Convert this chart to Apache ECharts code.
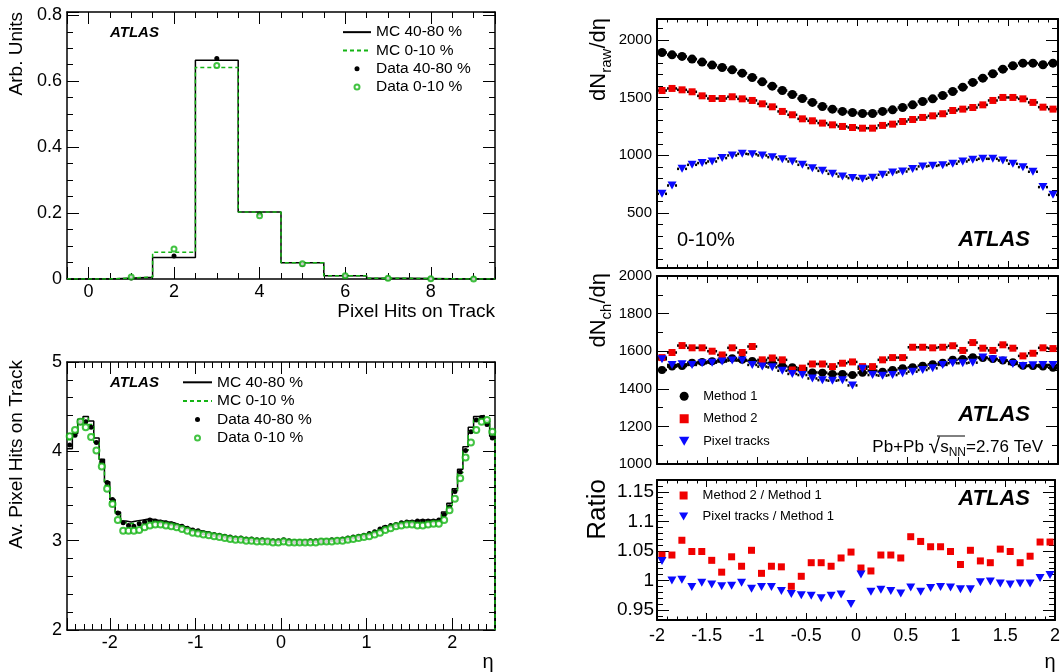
<!DOCTYPE html>
<html>
<head>
<meta charset="utf-8">
<script src="https://cdn.jsdelivr.net/npm/echarts@6/dist/echarts.min.js"></script>
<style>
html, body { margin: 0; padding: 0; background: #fff; }
#chart { width: 1063px; height: 672px; }
</style>
</head>
<body>
<div id="chart"></div>
<script>
// --- pixel hits per track (bins centred on integers) ---
var hitBins = [0, 1, 2, 3, 4, 5, 6, 7, 8, 9]
var mcPeriph = [0, 0.005, 0.065, 0.664, 0.203, 0.049, 0.010, 0.002, 0.0005, 0]
var mcCentral = [0, 0.006, 0.081, 0.642, 0.203, 0.049, 0.010, 0.002, 0.0005, 0]
var dataPeriph = [null, 0.003, 0.070, 0.669, 0.197, 0.045, 0.009, 0.002, 0.001, 0.001]
var dataCentral = [null, 0.006, 0.091, 0.648, 0.192, 0.046, 0.010, 0.002, 0.001, 0]

// --- average pixel hits vs eta (80 bins in -2.5..2.5) ---
var etaLo = -2.5
var etaStep = 0.0625
var avMcPeriph = [
  4.03, 4.20, 4.36, 4.39, 4.34, 4.15, 3.91, 3.66, 3.46, 3.32,
  3.22, 3.21, 3.22, 3.23, 3.24, 3.24, 3.23, 3.22, 3.21, 3.20,
  3.18, 3.16, 3.14, 3.12, 3.11, 3.10, 3.08, 3.07, 3.06, 3.05,
  3.04, 3.03, 3.03, 3.02, 3.02, 3.01, 3.01, 3.00, 3.00, 3.00,
  3.00, 3.00, 3.00, 3.00, 3.00, 3.00, 3.00, 3.01, 3.01, 3.01,
  3.02, 3.03, 3.03, 3.04, 3.06, 3.07, 3.09, 3.11, 3.13, 3.16,
  3.18, 3.19, 3.21, 3.22, 3.22, 3.23, 3.23, 3.23, 3.23, 3.25,
  3.32, 3.42, 3.58, 3.80, 4.05, 4.27, 4.39, 4.40, 4.34, 4.17
]
var avMcCentral = [
  4.13, 4.22, 4.34, 4.37, 4.30, 4.10, 3.87, 3.62, 3.43, 3.29,
  3.20, 3.19, 3.20, 3.21, 3.22, 3.22, 3.21, 3.20, 3.19, 3.18,
  3.16, 3.14, 3.12, 3.10, 3.09, 3.08, 3.07, 3.06, 3.05, 3.04,
  3.03, 3.02, 3.02, 3.01, 3.01, 3.00, 3.00, 2.99, 2.99, 2.99,
  2.99, 2.99, 2.99, 2.99, 2.99, 2.99, 2.99, 3.00, 3.00, 3.00,
  3.01, 3.01, 3.02, 3.03, 3.04, 3.05, 3.07, 3.09, 3.11, 3.14,
  3.16, 3.17, 3.19, 3.20, 3.21, 3.21, 3.21, 3.21, 3.21, 3.23,
  3.29, 3.39, 3.55, 3.76, 4.01, 4.22, 4.35, 4.38, 4.33, 4.20
]
var avDataPeriph = [
  4.07, 4.18, 4.32, 4.33, 4.27, 4.10, 3.89, 3.65, 3.46, 3.31,
  3.20, 3.17, 3.16, 3.19, 3.21, 3.23, 3.22, 3.21, 3.20, 3.19,
  3.17, 3.16, 3.14, 3.12, 3.11, 3.09, 3.08, 3.07, 3.06, 3.05,
  3.04, 3.03, 3.03, 3.02, 3.02, 3.01, 3.01, 3.00, 3.00, 3.00,
  3.01, 3.00, 2.99, 2.99, 2.99, 3.00, 3.00, 3.00, 3.00, 3.01,
  3.01, 3.02, 3.03, 3.04, 3.05, 3.06, 3.08, 3.10, 3.13, 3.15,
  3.17, 3.18, 3.20, 3.21, 3.21, 3.22, 3.22, 3.22, 3.22, 3.23,
  3.29, 3.38, 3.55, 3.77, 4.01, 4.22, 4.35, 4.38, 4.30, 4.15
]
var avDataCentral = [
  4.17, 4.24, 4.33, 4.27, 4.16, 4.01, 3.83, 3.58, 3.41, 3.23,
  3.11, 3.11, 3.11, 3.12, 3.15, 3.17, 3.18, 3.18, 3.17, 3.16,
  3.15, 3.13, 3.11, 3.09, 3.08, 3.07, 3.06, 3.05, 3.04, 3.03,
  3.02, 3.01, 3.01, 3.00, 3.00, 2.99, 2.99, 2.99, 2.98, 2.98,
  2.99, 2.98, 2.98, 2.98, 2.98, 2.98, 2.98, 2.99, 2.99, 2.99,
  3.00, 3.00, 3.01, 3.02, 3.03, 3.04, 3.05, 3.07, 3.09, 3.12,
  3.14, 3.16, 3.17, 3.18, 3.18, 3.17, 3.17, 3.18, 3.19, 3.19,
  3.23, 3.34, 3.47, 3.70, 3.93, 4.10, 4.24, 4.33, 4.35, 4.22
]

// --- dN/deta, 0-10% (40 points in -2..2) ---
var etaPts = [
  -1.95, -1.85, -1.75, -1.65, -1.55, -1.45, -1.35, -1.25, -1.15, -1.05,
  -0.95, -0.85, -0.75, -0.65, -0.55, -0.45, -0.35, -0.25, -0.15, -0.05,
  0.05, 0.15, 0.25, 0.35, 0.45, 0.55, 0.65, 0.75, 0.85, 0.95,
  1.05, 1.15, 1.25, 1.35, 1.45, 1.55, 1.65, 1.75, 1.85, 1.95
]
var rawM1 = [1890, 1870, 1856, 1833, 1807, 1781, 1760, 1740, 1711, 1674, 1636, 1599, 1561, 1527, 1492, 1458, 1423, 1400, 1380, 1371,
  1362, 1362, 1380, 1394, 1414, 1437, 1466, 1489, 1518, 1553, 1590, 1631, 1668, 1706, 1746, 1775, 1798, 1798, 1784, 1798]
var rawM2 = [1561, 1579, 1567, 1550, 1515, 1492, 1492, 1507, 1489, 1475, 1446, 1420, 1380, 1351, 1316, 1299, 1279, 1264, 1250, 1241,
  1235, 1235, 1259, 1270, 1293, 1310, 1328, 1342, 1360, 1388, 1400, 1414, 1437, 1475, 1501, 1501, 1489, 1458, 1417, 1400]
var rawPix = [667, 739, 883, 918, 933, 947, 976, 999, 1013, 1010, 999, 984, 967, 947, 918, 889, 866, 840, 817, 803,
  797, 806, 832, 852, 860, 881, 904, 909, 915, 927, 947, 961, 970, 970, 956, 927, 898, 858, 725, 658]
var chM1 = [1500, 1518, 1521, 1539, 1543, 1546, 1554, 1562, 1554, 1548, 1539, 1536, 1521, 1514, 1500, 1487, 1486, 1479, 1479, 1473,
  1486, 1496, 1491, 1500, 1509, 1514, 1523, 1530, 1539, 1554, 1559, 1568, 1564, 1559, 1550, 1541, 1523, 1521, 1518, 1512]
var chM2 = [1566, 1593, 1630, 1618, 1618, 1600, 1580, 1618, 1593, 1625, 1554, 1564, 1554, 1500, 1510, 1532, 1532, 1518, 1536, 1543,
  1518, 1518, 1554, 1566, 1566, 1621, 1621, 1618, 1621, 1629, 1604, 1646, 1616, 1604, 1634, 1616, 1575, 1589, 1618, 1614]
var chPix = [1557, 1527, 1530, 1527, 1536, 1539, 1545, 1550, 1550, 1527, 1518, 1514, 1496, 1479, 1473, 1455, 1446, 1443, 1446, 1418,
  1507, 1473, 1470, 1473, 1482, 1491, 1500, 1509, 1527, 1536, 1536, 1539, 1566, 1557, 1550, 1532, 1521, 1525, 1527, 1527]
var ratioM2 = [1.043, 1.043, 1.068, 1.049, 1.049, 1.034, 1.014, 1.040, 1.024, 1.051, 1.012, 1.024, 1.023, 0.990, 1.007, 1.030, 1.030, 1.024, 1.038, 1.048,
  1.021, 1.016, 1.043, 1.043, 1.038, 1.074, 1.066, 1.057, 1.057, 1.049, 1.027, 1.051, 1.033, 1.030, 1.053, 1.049, 1.030, 1.041, 1.065, 1.065]
var ratioPix = [1.033, 1.000, 1.001, 0.989, 0.996, 0.993, 0.990, 0.991, 0.996, 0.986, 0.989, 0.989, 0.982, 0.977, 0.975, 0.974, 0.970, 0.974, 0.976, 0.960,
  1.010, 0.981, 0.984, 0.982, 0.978, 0.988, 0.981, 0.987, 0.989, 0.988, 0.985, 0.985, 0.997, 0.998, 0.995, 0.993, 0.995, 0.995, 1.004, 1.009]

var ink = '#000'
var green = '#14b414'
var red = '#f00000'
var blue = '#0a0aff'
var font = 'Liberation Sans, Arial, sans-serif'
var triDown = 'path://M0,0L10,0L5,8.7Z'
var square = 'path://M0,0L10,0L10,10L0,10Z'

// 直方图的台阶折线
function steps (lo, width, vals) {
  var pts = []
  vals.forEach(function (v, i) {
    pts.push([lo + i * width, v], [lo + (i + 1) * width, v])
  })
  return pts
}
function pairs (xs, ys) {
  return ys.map(function (v, i) { return [xs[i], v] })
}
var etaCenters = avMcPeriph.map(function (v, i) { return etaLo + (i + 0.5) * etaStep })

// 坐标轴 (ROOT 风格: 四边框, 刻度朝内)
function axis (gi, pos, min, max, o, labels) {
  var ax = {
    type: 'value',
    gridIndex: gi,
    position: pos,
    min: min,
    max: max,
    splitNumber: o.split,
    axisLine: { show: true, onZero: false, lineStyle: { color: ink, width: o.lw } },
    axisTick: { show: true, inside: true, length: o.tick, lineStyle: { color: ink, width: 1 } },
    minorTick: { show: true, splitNumber: o.minor, length: o.tick / 2, lineStyle: { color: ink, width: 1 } },
    splitLine: { show: false },
    axisLabel: {
      show: labels,
      color: ink,
      fontFamily: font,
      fontSize: o.fs,
      margin: o.margin,
      showMinLabel: o.showMin,
      showMaxLabel: o.showMax,
      formatter: function (v) { return String(+(+v).toFixed(3)) } // 不要千位分隔符
    }
  }
  if (o.interval) ax.interval = o.interval
  return ax
}

var lx0 = { split: 5, minor: 4, tick: 12, lw: 1.5, fs: 18, margin: 4, showMin: false, showMax: false }
var ly0 = { split: 4, minor: 4, tick: 12, lw: 1.5, fs: 18, margin: 5, showMin: true, showMax: false }
var lx1 = { split: 5, minor: 10, tick: 12, lw: 1.5, fs: 18, margin: 4, showMin: false, showMax: false }
var ly1 = { split: 3, minor: 5, tick: 12, lw: 1.5, fs: 18, margin: 5, showMin: true, showMax: true }
var rx = { interval: 0.5, minor: 5, tick: 7, lw: 2, fs: 18, margin: 7, showMin: true, showMax: true }
var rawY = { split: 4, minor: 5, tick: 12, lw: 2, fs: 15, margin: 5, showMin: false, showMax: false }
var chY = { interval: 200, minor: 2, tick: 12, lw: 2, fs: 15, margin: 5, showMin: true, showMax: true }
var ratY = { split: 5, minor: 5, tick: 12, lw: 2, fs: 19, margin: 3, showMin: false, showMax: false }

function scatter (name, gi, pts, symbol, size, color, hollow) {
  return {
    name: name,
    type: 'scatter',
    xAxisIndex: 2 * gi,
    yAxisIndex: 2 * gi,
    data: pts,
    symbol: symbol,
    symbolSize: size,
    itemStyle: hollow ? { color: color, borderColor: color, borderWidth: 1 } : { color: color, opacity: 1 },
    z: 3
  }
}
function stepLine (name, gi, pts, color, type) {
  return {
    name: name,
    type: 'line',
    xAxisIndex: 2 * gi,
    yAxisIndex: 2 * gi,
    data: pts,
    symbol: 'none',
    lineStyle: { color: color, width: 1.5, type: type },
    itemStyle: { color: color },
    z: 2
  }
}
// 数据点的黑色虚线横条 (bin 宽度)
function dotBars (gi, xs, ys) {
  return {
    type: 'custom',
    xAxisIndex: 2 * gi,
    yAxisIndex: 2 * gi,
    silent: true,
    data: pairs(xs, ys),
    z: 1,
    renderItem: function (params, api) {
      var a = api.coord([api.value(0) - 0.05, api.value(1)])
      var b = api.coord([api.value(0) + 0.05, api.value(1)])
      return {
        type: 'line',
        shape: { x1: a[0], y1: a[1], x2: b[0], y2: b[1] },
        style: { stroke: ink, lineWidth: 2.5, lineDash: [2, 2] }
      }
    }
  }
}

var histPeriph = steps(-0.5, 1, mcPeriph)
var histCentral = steps(-0.5, 1, mcCentral)
var avHistPeriph = steps(etaLo, etaStep, avMcPeriph).concat([[2.5, 2]])
var avHistCentral = steps(etaLo, etaStep, avMcCentral).concat([[2.5, 2]])

function txt (s, x, y, st, extra) {
  var el = { type: 'text', x: x, y: y, z: 100, silent: true,
    style: Object.assign({ text: s, fill: ink, fontFamily: font }, st) }
  return Object.assign(el, extra || {})
}
var atlasS = { fontSize: 15, fontWeight: 'bold', fontStyle: 'italic', verticalAlign: 'middle' }
var atlasL = { fontSize: 22, fontWeight: 'bold', fontStyle: 'italic', verticalAlign: 'middle', align: 'right' }
var rot = { rotation: Math.PI / 2 }
var subRich = {
  m: { fontSize: 22, lineHeight: 30, fontFamily: font, fill: ink },
  s: { fontSize: 15, lineHeight: 15, verticalAlign: 'bottom', fontFamily: font, fill: ink }
}

var legendText = function (fs, lh) {
  return { fontSize: fs, lineHeight: lh, color: ink, fontFamily: font }
}

var option = {
  animation: false,
  backgroundColor: '#fff',
  grid: [
    { left: 67, top: 12, width: 428, height: 267 },
    { left: 67, top: 362, width: 428, height: 268 },
    { left: 657, top: 19, width: 401, height: 249 },
    { left: 657, top: 276, width: 401, height: 188 },
    { left: 657, top: 480, width: 401, height: 140 }
  ],
  xAxis: [
    axis(0, 'bottom', -0.5, 9.5, lx0, true), axis(0, 'top', -0.5, 9.5, lx0, false),
    axis(1, 'bottom', -2.5, 2.5, lx1, true), axis(1, 'top', -2.5, 2.5, lx1, false),
    axis(2, 'bottom', -2, 2, rx, false), axis(2, 'top', -2, 2, rx, false),
    axis(3, 'bottom', -2, 2, rx, false), axis(3, 'top', -2, 2, rx, false),
    axis(4, 'bottom', -2, 2, rx, true), axis(4, 'top', -2, 2, rx, false)
  ],
  yAxis: [
    axis(0, 'left', 0, 0.81, ly0, true), axis(0, 'right', 0, 0.81, ly0, false),
    axis(1, 'left', 2, 5, ly1, true), axis(1, 'right', 2, 5, ly1, false),
    axis(2, 'left', 25, 2180, rawY, true), axis(2, 'right', 25, 2180, rawY, false),
    axis(3, 'left', 1000, 2000, chY, true), axis(3, 'right', 1000, 2000, chY, false),
    axis(4, 'left', 0.933, 1.17, ratY, true), axis(4, 'right', 0.933, 1.17, ratY, false)
  ],
  legend: [
    {
      left: 342, top: 23, orient: 'vertical', padding: 0, itemGap: 0, itemWidth: 28, itemHeight: 5,
      selectedMode: false, textStyle: legendText(15.5, 18.3),
      data: [
        { name: 'MC 40-80 %', itemStyle: { opacity: 0 } },
        { name: 'MC 0-10 %', itemStyle: { opacity: 0 } },
        'Data 40-80 %', 'Data 0-10 %'
      ]
    },
    {
      left: 182, top: 373, orient: 'vertical', padding: 0, itemGap: 0, itemWidth: 29, itemHeight: 5,
      selectedMode: false, textStyle: legendText(15.5, 18.6),
      data: [
        { name: 'MC 40-80 %', itemStyle: { opacity: 0 } },
        { name: 'MC 0-10 %', itemStyle: { opacity: 0 } },
        'Data 40-80 %', 'Data 0-10 %'
      ]
    },
    {
      left: 679, top: 385, orient: 'vertical', padding: 0, itemGap: 0, itemWidth: 28, itemHeight: 9,
      selectedMode: false, textStyle: legendText(13, 22.5),
      data: ['Method 1', 'Method 2', 'Pixel tracks']
    },
    {
      left: 679, top: 485, orient: 'vertical', padding: 0, itemGap: 0, itemWidth: 28, itemHeight: 8,
      selectedMode: false, textStyle: legendText(13, 21),
      data: ['Method 2 / Method 1', 'Pixel tracks / Method 1']
    }
  ],
  series: [
    // 左上: 像素击中数分布
    stepLine('MC 40-80 %', 0, histPeriph, ink, 'solid'),
    stepLine('MC 0-10 %', 0, histCentral, green, [4, 3]),
    scatter('Data 40-80 %', 0, pairs(hitBins, dataPeriph), 'circle', 5, ink),
    scatter('Data 0-10 %', 0, pairs(hitBins, dataCentral), 'emptyCircle', 5, green, true),
    // 左下: 平均像素击中数 vs eta
    stepLine('MC 40-80 %', 1, avHistPeriph, ink, 'solid'),
    stepLine('MC 0-10 %', 1, avHistCentral, green, [4, 3]),
    scatter('Data 40-80 %', 1, pairs(etaCenters, avDataPeriph), 'circle', 5, ink),
    scatter('Data 0-10 %', 1, pairs(etaCenters, avDataCentral), 'emptyCircle', 6, green, true),
    // 右上: dNraw/deta
    dotBars(2, etaPts, rawM1), dotBars(2, etaPts, rawM2), dotBars(2, etaPts, rawPix),
    scatter('Method 1 raw', 2, pairs(etaPts, rawM1), 'circle', 9, ink),
    scatter('Method 2 raw', 2, pairs(etaPts, rawM2), square, 7, red),
    scatter('Pixel tracks raw', 2, pairs(etaPts, rawPix), triDown, [9, 8], blue),
    // 右中: dNch/deta
    dotBars(3, etaPts, chM1), dotBars(3, etaPts, chM2), dotBars(3, etaPts, chPix),
    scatter('Method 1', 3, pairs(etaPts, chM1), 'circle', 8, ink),
    scatter('Method 2', 3, pairs(etaPts, chM2), square, 7, red),
    scatter('Pixel tracks', 3, pairs(etaPts, chPix), triDown, [9, 8], blue),
    // 右下: 比值
    scatter('Method 2 / Method 1', 4, pairs(etaPts, ratioM2), square, 7, red),
    scatter('Pixel tracks / Method 1', 4, pairs(etaPts, ratioPix), triDown, [9, 8], blue)
  ],
  graphic: [
    txt('ATLAS', 110, 33, atlasS),
    txt('ATLAS', 110, 383, atlasS),
    txt('ATLAS', 1030, 240, atlasL),
    txt('ATLAS', 1030, 415, atlasL),
    txt('ATLAS', 1030, 499, atlasL),
    txt('0-10%', 677, 240, { fontSize: 20, verticalAlign: 'middle' }),
    txt('{a|Pb+Pb }{r|\u221a}{a|s}{b|NN}{a|=2.76 TeV}', 1043, 447, {
      align: 'right', verticalAlign: 'middle',
      rich: {
        a: { fontSize: 17, lineHeight: 24, fontFamily: font, fill: ink },
        r: { fontSize: 21, lineHeight: 24, fontFamily: font, fill: ink },
        b: { fontSize: 12, lineHeight: 12, verticalAlign: 'bottom', fontFamily: font, fill: ink }
      }
    }),
    { type: 'line', z: 100, silent: true, shape: { x1: 937, y1: 436, x2: 965, y2: 436 }, style: { stroke: ink, lineWidth: 1 } },
    txt('Pixel Hits on Track', 495, 312, { fontSize: 19, align: 'right', verticalAlign: 'middle' }),
    txt('\u03b7', 488, 662, { fontSize: 20, align: 'center', verticalAlign: 'middle' }),
    txt('\u03b7', 1050, 662, { fontSize: 20, align: 'center', verticalAlign: 'middle' }),
    txt('Arb. Units', 17, 12, { fontSize: 19, align: 'right', verticalAlign: 'middle' }, rot),
    txt('Av. Pixel Hits on Track', 17, 360, { fontSize: 19, align: 'right', verticalAlign: 'middle' }, rot),
    txt('{m|dN}{s|raw}{m|/d\u03b7}', 599, 18, { align: 'right', verticalAlign: 'middle', rich: subRich }, rot),
    txt('{m|dN}{s|ch}{m|/d\u03b7}', 599, 273, { align: 'right', verticalAlign: 'middle', rich: subRich }, rot),
    txt('Ratio', 598, 479, { fontSize: 26, align: 'right', verticalAlign: 'middle' }, rot)
  ]
}

var chart = echarts.init(document.getElementById('chart'))
chart.setOption(option)
</script>
</body>
</html>
